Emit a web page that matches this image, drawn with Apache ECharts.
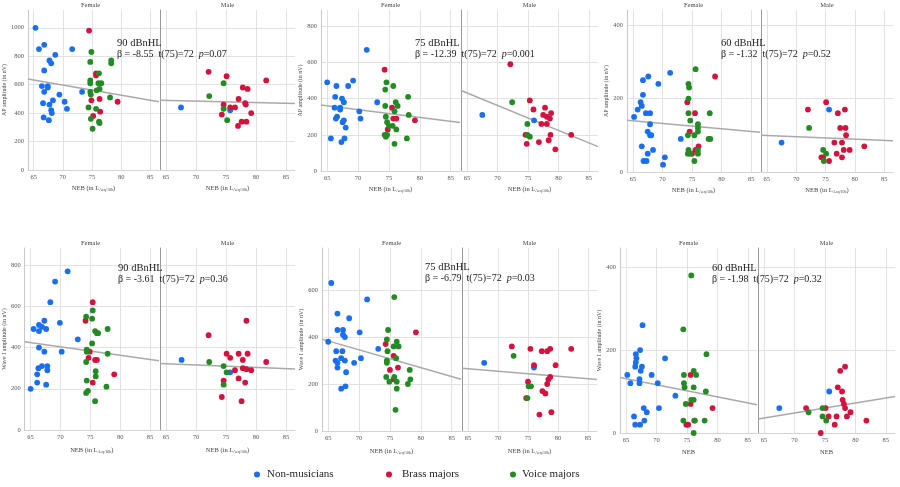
<!DOCTYPE html>
<html><head><meta charset="utf-8">
<script src="https://cdn.jsdelivr.net/npm/echarts@6/dist/echarts.min.js"></script>
<style>html,body{margin:0;padding:0;background:#fff}#c{width:900px;height:487px}</style>
</head><body><div id="c"></div>
<script>
// ---------- shared ticks / labels ----------
const X_TICKS = [65, 70, 75, 80, 85];
const AP90_YTICKS = [0, 200, 400, 600, 800, 1000];
const AP75_YTICKS = [0, 200, 400, 600, 800];
const AP60_YTICKS = [0, 200, 400];
const W90_YTICKS = [0, 200, 400, 600, 800];
const W75_YTICKS = [0, 200, 400, 600];
const W60_YTICKS = [0, 200, 400];
const GROUPS = ['Non-musicians', 'Brass majors', 'Voice majors'];

// ---------- AP amplitude, 90 dBnHL ----------
const ap90F_non = [[65.3,1000],[65.9,850],[66.8,880],[68.7,810],[71.6,850],[67.7,770],[68.0,750],[66.8,700],[66.4,590],[67.4,590],[67.4,580],[66.8,550],[69.4,530],[73.3,550],[66.6,470],[68.3,490],[70.3,480],[67.7,460],[68.0,420],[68.1,400],[70.7,430],[66.7,370],[67.6,350]];
const ap90F_brass = [[74.5,980],[75.7,680],[75.7,665],[74.9,490],[76.3,500],[75.2,380],[76.4,410],[79.4,480]];
const ap90F_voice = [[74.9,830],[74.7,760],[78.3,770],[78.3,750],[76.2,680],[74.7,630],[74.7,610],[76.1,610],[76.6,610],[74.7,550],[75.8,560],[76.3,570],[74.8,530],[78.1,510],[74.4,440],[75.7,430],[74.8,360],[76.2,340],[76.3,330],[75.1,290]];
const ap90M_non = [[67.5,440],[75.7,420]];
const ap90M_brass = [[72.1,690],[75.1,660],[77.8,580],[78.6,570],[81.7,630],[77.1,500],[74.6,460],[78.2,470],[78.3,460],[75.7,440],[76.5,440],[74.3,390],[77.6,340],[78.4,340],[79.2,400],[77.0,310]];
const ap90M_voice = [[72.2,520],[74.6,610],[74.6,430],[75.2,350]];
const ap90F_fit = [[64,640],[86.5,480]];
const ap90M_fit = [[64,490],[86.5,468]];

// ---------- AP amplitude, 75 dBnHL ----------
const ap75F_non = [[65.0,490],[66.5,470],[68.4,470],[69.2,500],[71.4,670],[66.3,410],[66.2,350],[67.1,350],[67.1,340],[67.4,400],[67.7,380],[66.6,300],[66.4,290],[67.5,270],[67.7,280],[68.0,240],[70.2,330],[70.4,290],[73.1,380],[65.6,180],[67.3,160],[67.8,180]];
const ap75F_brass = [[74.3,560],[75.5,350],[75.7,290],[76.2,290],[79.2,280],[74.8,230]];
const ap75F_voice = [[74.6,490],[75.7,470],[74.4,450],[78.1,410],[74.4,360],[76.1,380],[76.4,360],[75.9,330],[74.5,300],[78.2,310],[74.7,270],[75.0,250],[75.6,250],[76.2,230],[74.3,200],[74.5,190],[74.7,200],[77.9,180],[75.9,150]];
const ap75M_non = [[67.5,310],[76.0,280]];
const ap75M_brass = [[72.1,590],[75.3,390],[75.9,340],[77.8,350],[77.5,310],[78.1,300],[78.6,290],[78.8,320],[77.2,260],[78.1,260],[74.6,200],[78.7,200],[82.1,200],[78.4,170],[74.8,150],[76.8,160],[79.5,120]];
const ap75M_voice = [[72.4,380],[74.9,260],[74.9,200],[75.3,190]];
const ap75F_fit = [[64,365],[86.5,268]];
const ap75M_fit = [[64,445],[86.5,135]];

// ---------- AP amplitude, 60 dBnHL ----------
const ap60F_non = [[65.2,150],[65.8,170],[66.3,190],[66.5,180],[66.7,210],[66.7,250],[67.6,260],[69.3,240],[71.3,270],[67.2,160],[67.9,160],[67.9,130],[67.5,110],[67.9,100],[68.1,100],[66.5,70],[73.1,90],[68.4,60],[67.5,50],[66.8,30],[67.3,30],[70.4,40],[70.1,20]];
const ap60F_brass = [[78.9,260],[74.2,190],[75.5,160],[74.6,110],[76.1,70],[75.6,60],[75.0,50]];
const ap60F_voice = [[75.6,280],[74.4,240],[74.5,230],[74.4,200],[74.4,160],[78.0,160],[74.7,140],[76.0,130],[76.0,120],[76.0,110],[74.3,100],[75.4,100],[77.8,90],[78.1,90],[74.4,60],[74.7,50],[76.0,60],[76.0,50],[75.4,30],[74.3,50]];
const ap60M_non = [[67.5,80],[75.6,170]];
const ap60M_brass = [[72.0,170],[75.1,190],[77.1,160],[78.3,170],[77.5,120],[78.4,120],[78.5,100],[76.5,80],[77.8,80],[78.1,60],[79.1,60],[81.6,70],[76.9,50],[77.8,40],[74.3,40],[74.6,40],[75.6,30]];
const ap60M_voice = [[72.2,120],[74.6,60],[75.1,50],[74.7,30]];
const ap60F_fit = [[64,141],[86.5,108]];
const ap60M_fit = [[64,100],[86.5,85]];

// ---------- Wave I amplitude, 90 dBnHL ----------
const w90F_non = [[65.0,200],[65.5,490],[66.4,510],[66.4,480],[66.9,500],[67.3,530],[67.6,490],[68.3,620],[69.1,720],[71.2,770],[69.9,520],[72.9,440],[66.4,400],[67.3,380],[70.2,380],[66.3,300],[66.1,270],[66.1,230],[66.9,310],[67.8,310],[67.8,290],[67.6,220]];
const w90F_brass = [[75.4,620],[74.2,530],[74.9,380],[74.7,350],[75.8,340],[76.1,340],[79.0,270],[75.4,230]];
const w90F_voice = [[75.4,580],[74.3,550],[75.3,540],[75.8,480],[76.1,470],[76.3,470],[77.9,490],[75.3,420],[74.4,390],[74.4,380],[77.9,370],[74.3,330],[75.9,285],[75.9,260],[74.4,240],[77.7,210],[74.6,190],[74.3,180],[75.8,140]];
const w90M_non = [[67.6,340],[75.7,280]];
const w90M_brass = [[72.1,460],[78.4,530],[75.1,370],[75.7,350],[77.1,370],[78.6,370],[77.8,340],[77.8,300],[78.4,295],[79.2,290],[76.5,290],[81.7,330],[77.1,250],[74.6,240],[78.2,230],[74.3,160],[77.6,140]];
const w90M_voice = [[72.2,330],[74.6,310],[75.1,280],[74.6,220]];
const w90F_fit = [[64,428],[86.5,336]];
const w90M_fit = [[64,323],[86.5,296]];

// ---------- Wave I amplitude, 75 dBnHL ----------
const w75F_non = [[65.5,630],[65.0,380],[66.5,500],[66.5,430],[67.4,430],[67.4,410],[67.7,400],[68.4,480],[70.1,420],[71.3,560],[73.1,350],[66.3,340],[67.3,340],[66.2,300],[66.5,290],[67.1,310],[67.7,300],[66.5,270],[69.2,290],[70.3,310],[67.9,250],[67.1,180],[67.8,190]];
const w75F_brass = [[79.2,420],[74.3,370],[75.6,320],[75.0,260],[76.3,270],[75.6,220]];
const w75F_voice = [[75.7,570],[74.7,430],[74.5,390],[74.6,340],[75.6,360],[76.1,380],[76.4,360],[76.0,310],[74.5,300],[74.5,290],[78.2,260],[74.4,230],[74.9,210],[75.7,230],[76.1,210],[78.3,220],[77.9,200],[76.1,180],[75.9,90]];
const w75M_non = [[67.7,290],[76.0,270]];
const w75M_brass = [[72.3,360],[75.4,350],[77.3,340],[78.2,340],[78.7,350],[82.2,350],[76.0,280],[79.6,280],[78.7,230],[78.4,220],[78.2,200],[77.4,170],[77.9,160],[75.0,210],[74.7,140],[76.9,70],[78.9,80]];
const w75M_voice = [[72.6,320],[75.1,190],[75.5,190],[74.9,140]];
const w75F_fit = [[64,391],[86.5,220]];
const w75M_fit = [[64,267],[86.5,219]];

// ---------- Wave I amplitude, 60 dBnHL ----------
const w60F_non = [[65.2,140],[65.7,120],[66.3,40],[66.5,20],[66.6,190],[66.7,180],[66.6,170],[66.5,160],[67.2,130],[67.2,120],[67.3,200],[67.4,150],[67.6,160],[67.7,260],[67.9,60],[68.0,30],[67.3,20],[68.4,50],[69.2,140],[70.2,120],[70.4,60],[71.4,180],[73.1,90]];
const w60F_brass = [[75.6,140],[74.9,20],[75.2,20],[75.6,70],[76.2,30],[79.2,60]];
const w60F_voice = [[75.7,380],[74.4,250],[78.2,190],[74.5,140],[74.5,120],[74.6,110],[76.1,150],[76.5,140],[76.1,110],[78.1,100],[74.8,70],[75.7,80],[76.1,80],[74.4,30],[76.3,30],[76.1,0],[77.9,30]];
const w60M_non = [[67.5,60],[75.7,100]];
const w60M_brass = [[71.9,60],[75.1,60],[75.6,40],[74.3,0],[76.6,20],[76.9,40],[77.1,110],[77.5,150],[78.3,160],[77.8,100],[77.9,80],[78.1,70],[78.3,60],[78.6,40],[79.2,50],[81.8,30]];
const w60M_voice = [[72.3,50],[74.6,60],[74.6,40],[75.2,30]];
const w60F_fit = [[64,134],[86.5,68]];
const w60M_fit = [[64,34],[86.5,88]];

// ---------- annotation texts ----------
const LEVELS = ['90 dBnHL', '75 dBnHL', '60 dBnHL', '90 dBnHL', '75 dBnHL', '60 dBnHL'];
const BETAS = ['-8.55', '-12.39', '-1.32', '-3.61', '-6.79', '-1.98'];
const PVALS = ['0.07', '0.001', '0.52', '0.36', '0.03', '0.32'];
const Y_NAMES = ['AP amplitude (in nV)', 'Wave I amplitude (in nV)'];

// ---------- layout (pixels) ----------
const SERIF = '"Liberation Serif","Times New Roman",serif';
const COLORS = ['#1a6ef0', '#d3123e', '#238b23'];
const panels = [
  {F:[ap90F_non,ap90F_brass,ap90F_voice,ap90F_fit], M:[ap90M_non,ap90M_brass,ap90M_voice,ap90M_fit], yTicks:AP90_YTICKS, yMax:1125, row:0, fl:22, fr:159, mr:295, top:10, h:160, ax:117, ay:43, xname:'full'},
  {F:[ap75F_non,ap75F_brass,ap75F_voice,ap75F_fit], M:[ap75M_non,ap75M_brass,ap75M_voice,ap75M_fit], yTicks:AP75_YTICKS, yMax:890, row:0, fl:321, fr:460, mr:598, top:10, h:161, ax:415, ay:43, xname:'full'},
  {F:[ap60F_non,ap60F_brass,ap60F_voice,ap60F_fit], M:[ap60M_non,ap60M_brass,ap60M_voice,ap60M_fit], yTicks:AP60_YTICKS, yMax:441, row:0, fl:627, fr:760, mr:893, top:10, h:162, ax:721, ay:43, xname:'full'},
  {F:[w90F_non,w90F_brass,w90F_voice,w90F_fit], M:[w90M_non,w90M_brass,w90M_voice,w90M_fit], yTicks:W90_YTICKS, yMax:883, row:1, fl:22, fr:159, mr:295, top:248, h:182, ax:118, ay:268, xname:'full'},
  {F:[w75F_non,w75F_brass,w75F_voice,w75F_fit], M:[w75M_non,w75M_brass,w75M_voice,w75M_fit], yTicks:W75_YTICKS, yMax:779, row:1, fl:322, fr:461, mr:597, top:248, h:183, ax:425, ay:267, xname:'full'},
  {F:[w60F_non,w60F_brass,w60F_voice,w60F_fit], M:[w60M_non,w60M_brass,w60M_voice,w60M_fit], yTicks:W60_YTICKS, yMax:446, row:1, fl:620, fr:757, mr:895, top:248, h:185, ax:712, ay:268, xname:'short'}
];

const grids = [], xAxes = [], yAxes = [], series = [], graphics = [];
const tickLabel = {fontFamily: SERIF, fontSize: 6.5, color: '#555', formatter: v => String(v)};

panels.forEach((p, pi) => {
  ['F', 'M'].forEach((sex) => {
    const gi = grids.length;
    const left = sex === 'F' ? p.fl : p.fr + 1;
    const right = sex === 'F' ? p.fr : p.mr;
    grids.push({left: left, top: p.top, width: right - left, height: p.h});
    xAxes.push({
      type: 'value', gridIndex: gi, min: 64, max: 86.5,
      name: p.xname === 'full' ? 'NEB (in L{s|Aeq/10h})' : 'NEB',
      nameLocation: 'middle', nameGap: p.row === 0 ? 14 : 16,
      nameTextStyle: {fontFamily: SERIF, fontSize: 6.5, color: '#444', rich: {s: {fontFamily: SERIF, fontSize: 4, color: '#444', padding: [4, 0, 0, 0]}}},
      axisLine: {show: true, lineStyle: {color: '#d4d4d4', width: 1}},
      axisTick: {show: false, customValues: X_TICKS},
      axisLabel: Object.assign({customValues: X_TICKS, margin: 4}, tickLabel),
      splitLine: {show: true, lineStyle: {color: '#e2e2e2', width: 1}}
    });
    yAxes.push({
      type: 'value', gridIndex: gi, min: 0, max: p.yMax,
      name: sex === 'F' ? Y_NAMES[p.row] : '',
      nameLocation: 'middle', nameGap: sex === 'F' ? 16 : 0, nameRotate: 90,
      nameTextStyle: {fontFamily: SERIF, fontSize: 6, color: '#444'},
      axisLine: {show: true, lineStyle: {color: sex === 'F' ? '#c8c8c8' : '#9a9a9a', width: 1}},
      axisTick: {show: false, customValues: p.yTicks},
      axisLabel: Object.assign({show: sex === 'F', customValues: p.yTicks, margin: 4}, tickLabel),
      splitLine: {show: true, lineStyle: {color: '#e2e2e2', width: 1}}
    });
    const d = p[sex];
    series.push({
      type: 'line', name: 'fit', xAxisIndex: gi, yAxisIndex: gi, data: d[3],
      symbol: 'none', silent: true, lineStyle: {color: '#a9a9a9', width: 1.5}, z: 1
    });
    for (let g = 0; g < 3; g++) {
      series.push({
        type: 'scatter', name: GROUPS[g], xAxisIndex: gi, yAxisIndex: gi, data: d[g],
        symbolSize: 5.8, itemStyle: {color: COLORS[g], opacity: 1}, z: 2
      });
    }
    graphics.push({
      type: 'text', x: (left + right) / 2, y: p.top - 5, z: 50,
      style: {text: sex === 'F' ? 'Female' : 'Male', fontFamily: SERIF, fontSize: 6.5, fill: '#444', textAlign: 'center', textVerticalAlign: 'middle'}
    });
  });
  graphics.push({
    type: 'text', x: p.ax, y: p.ay, z: 100,
    style: {text: LEVELS[pi], fontFamily: SERIF, fontSize: 10.5, fill: '#222', textVerticalAlign: 'middle'}
  });
  graphics.push({
    type: 'text', x: p.ax, y: p.ay + 11.5, z: 100,
    style: {
      text: '{a|β = ' + BETAS[pi] + '  t(75)=72  }{i|p}{a|=' + PVALS[pi] + '}',
      textVerticalAlign: 'middle',
      rich: {
        a: {fontFamily: SERIF, fontSize: 10, fill: '#222', color: '#222'},
        i: {fontFamily: SERIF, fontSize: 10, fontStyle: 'italic', fill: '#222', color: '#222'}
      }
    }
  });
});

const legendBase = {top: 469, padding: 0, icon: 'circle', itemWidth: 6, itemHeight: 6, selectedMode: false};
const legendText = (pad) => ({fontFamily: SERIF, fontSize: 11, color: '#222', padding: [0, 0, 0, pad]});
const legends = [
  Object.assign({}, legendBase, {left: 254, data: [GROUPS[0]], textStyle: legendText(2)}),
  Object.assign({}, legendBase, {left: 386, data: [GROUPS[1]], textStyle: legendText(5)}),
  Object.assign({}, legendBase, {left: 510, data: [GROUPS[2]], textStyle: legendText(1)})
];

const chart = echarts.init(document.getElementById('c'), null, {renderer: 'canvas'});
chart.setOption({
  animation: false,
  backgroundColor: '#fff',
  grid: grids, xAxis: xAxes, yAxis: yAxes, series: series,
  legend: legends,
  graphic: {elements: graphics}
});
</script></body></html>
